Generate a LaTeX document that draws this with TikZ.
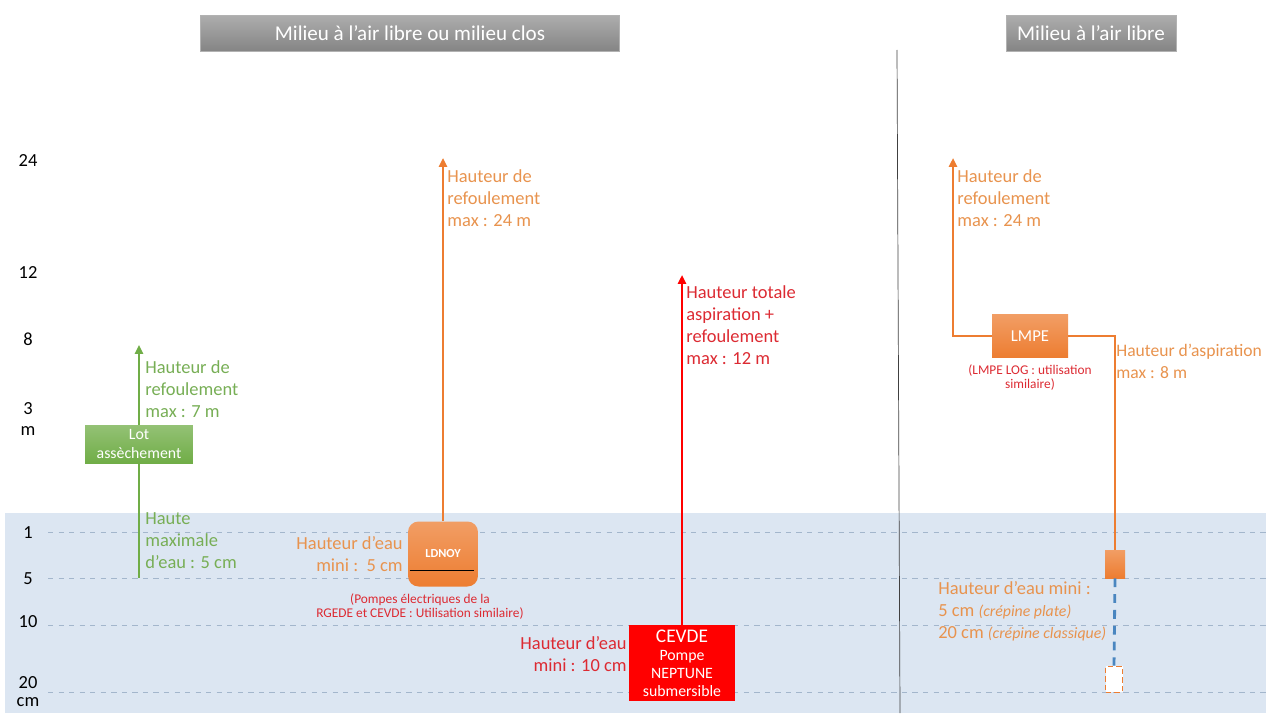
\documentclass[tikz,border=0pt]{standalone}
\usepackage{fontspec}
\setmainfont{Carlito}
\usetikzlibrary{arrows.meta}
\definecolor{eau}{HTML}{DCE6F2}
\definecolor{niveaugris}{HTML}{A3B6CC}
\definecolor{pompeorange}{HTML}{ED7D31}
\definecolor{texteorange}{HTML}{E8934E}
\definecolor{pompevert}{HTML}{70AD47}
\definecolor{textevert}{HTML}{77AE55}
\definecolor{pomperouge}{HTML}{FF0000}
\definecolor{texterouge}{HTML}{DC2A32}
\definecolor{tuyaubleu}{HTML}{4A86C0}

\begin{document}
\begin{tikzpicture}[x=0.02cm,y=-0.02cm,
	titre/.style={ draw=black!30, top color=black!32, bottom color=black!48, text=white, inner sep=0pt, minimum height=0.72cm, font=\fontsize{12}{14}\selectfont },
	graduation/.style={ font=\fontsize{10.5}{12.5}\selectfont, inner sep=0pt },
	niveau/.style={ niveaugris, dashed, thin },
	pompe/.style={ draw=none, text=white, inner sep=0pt, align=center },
	degrade/.style={ top color=#1!75!white, bottom color=#1 },
	fleche/.style={ line width=1.6pt, -{Triangle[length=5pt,width=4.5pt]} },
	legende/.style={ inner sep=0pt, align=left, anchor=north west, font=\fontsize{10.5}{12.6}\selectfont },
	note/.style={ inner sep=0pt, align=center, anchor=north, text=texterouge, font=\fontsize{7.6}{8.4}\selectfont }
]
\clip (0,0) rectangle (1266,713);

% eau et niveaux
\fill[eau] (5,513) rectangle (1266,713);
\foreach \y in {532,578,625,692} \draw[niveau] (48,\y) -- (1266,\y);

\foreach \t/\y in {24/161,12/273,8/339,3/409,m/431,1/533,5/579,10/622}
	\node at (28,\y) (axe\y) [graduation] {\t};
\node at (28,707) (axecm) [graduation, anchor=south, align=center, font=\fontsize{10.5}{10.5}\selectfont] {20\\cm};

% titres
\node at (410,33) (titreclos) [titre, minimum width=8.38cm] {Milieu à l’air libre ou milieu clos};
\node at (1091,33) (titrelibre) [titre, minimum width=3.4cm] {Milieu à l’air libre};
\draw[black!75, thin] (897,50) -- (900,713);

% lot assechement
\node at (139,444) (lot) [pompe, degrade=pompevert, minimum width=2.16cm, minimum height=0.76cm, font=\fontsize{9}{10.5}\selectfont] {Lot\\assèchement};
\coordinate (lothaut) at (139,345);
\coordinate (lotbas) at (139,578);
\draw[fleche, pompevert, line width=1.2pt] (lot.north) -- (lothaut);
\draw[pompevert, line width=1.2pt] (lot.south) -- (lotbas);
\node at (145,360) (lotrefoul) [legende, text=textevert] {Hauteur de\\refoulement\\max : 7 m};
\node at (145,512) (loteau) [legende, text=textevert] {Haute\\maximale\\d’eau : 5 cm};

% LDNOY
\node at (443,554) (ldnoy) [pompe, degrade=pompeorange, rounded corners=6pt, minimum width=1.4cm, minimum height=1.3cm, font=\bfseries\fontsize{7}{8}\selectfont] {LDNOY};
\draw[black, thin] ([xshift=0.04cm,yshift=0.34cm]ldnoy.south west) -- ([xshift=-0.08cm,yshift=0.34cm]ldnoy.south east);
\coordinate (ldnoyhaut) at (443,158);
\draw[fleche, pompeorange] (ldnoy.north) -- (ldnoyhaut);
\node at (447,169) (ldnoyrefoul) [legende, text=texteorange] {Hauteur de\\refoulement\\max : 24 m};
\node at (403,536) (ldnoyeau) [legende, anchor=north east, align=right, text=texteorange] {Hauteur d’eau\\mini :\ \ 5 cm};
\node at (420,593) (ldnoynote) [note] {(Pompes électriques de la\\RGEDE et CEVDE : Utilisation similaire)};

% CEVDE
\node at (682,663) (cevde) [pompe, fill=pomperouge, minimum width=2.12cm, minimum height=1.52cm, font=\fontsize{9}{10.3}\selectfont] {{\fontsize{11}{12}\selectfont CEVDE}\\Pompe\\NEPTUNE\\submersible};
\coordinate (cevdehaut) at (682,275);
\draw[fleche, pomperouge] (cevde.north) -- (cevdehaut);
\node at (686,285) (cevdetotal) [legende, text=texterouge] {Hauteur totale\\aspiration +\\refoulement\\max : 12 m};
\node at (627,636) (cevdeeau) [legende, anchor=north east, align=right, text=texterouge] {Hauteur d’eau\\mini : 10 cm};

% LMPE
\node at (1030,336) (lmpe) [pompe, degrade=pompeorange, minimum width=1.52cm, minimum height=0.86cm, font=\fontsize{9.5}{11}\selectfont] {LMPE};
\node at (1030,364) (lmpenote) [note] {(LMPE LOG : utilisation\\similaire)};
\coordinate (lmpehaut) at (953,158);
\draw[fleche, pompeorange] (lmpe.west) -| (lmpehaut);
\node at (957,169) (lmperefoul) [legende, text=texteorange] {Hauteur de\\refoulement\\max : 24 m};
\node at (1115,564) (crepine) [pompe, degrade=pompeorange, minimum width=0.4cm, minimum height=0.56cm] {};
\node at (1114,679) (classique) [pompe, draw=pompeorange, densely dashed, thin, fill=white, minimum width=0.34cm, minimum height=0.52cm] {};
\draw[pompeorange, line width=1.6pt] (lmpe.east) -| (crepine.north);
\draw[tuyaubleu, line width=1.6pt, dash pattern=on 5pt off 4pt] (crepine.south) -- (classique.north);
\node at (1116,344) (lmpeaspi) [legende, text=texteorange, font=\fontsize{10}{12.6}\selectfont] {Hauteur d’aspiration\\max : 8 m};
\node at (938,581) (lmpeeau) [legende, text=texteorange] {Hauteur d’eau mini :\\5 cm {\itshape\small (crépine plate)}\\20 cm {\itshape\small (crépine classique)}};

\end{tikzpicture}
\end{document}
